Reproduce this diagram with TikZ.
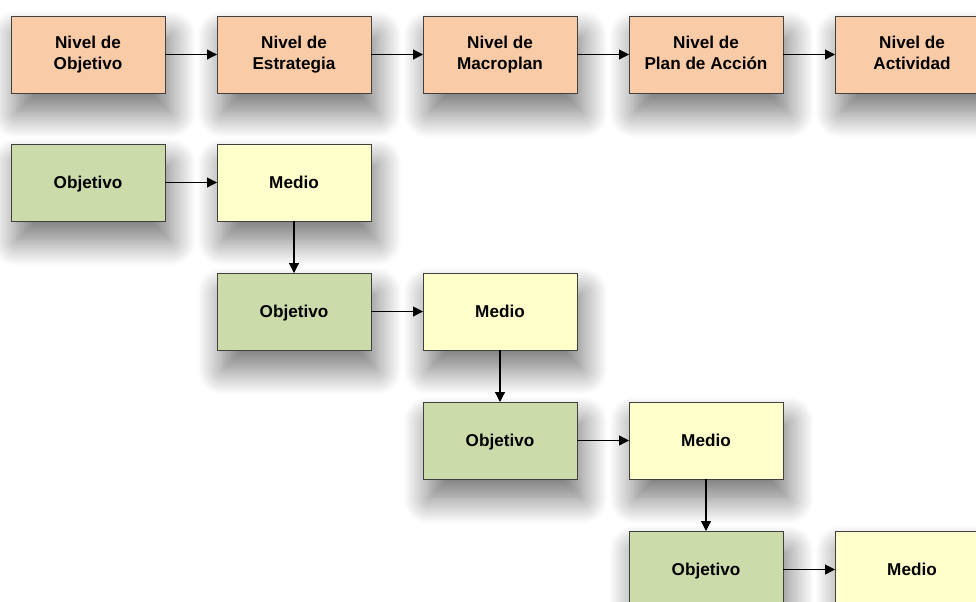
\documentclass[tikz,border=0pt]{standalone}
\usepackage{fontspec}
\setmainfont{Liberation Sans}
\usetikzlibrary{positioning,arrows.meta,shadows.blur}

\definecolor{levelfill}{RGB}{250,203,167}
\definecolor{goalfill}{RGB}{204,219,170}
\definecolor{meansfill}{RGB}{255,255,204}
\definecolor{boxline}{RGB}{64,64,64}

\newcommand{\boxstrut}{\rule[-3pt]{0pt}{14.7pt}}

\begin{document}
\begin{tikzpicture}[box/.style={draw=boxline,line width=0.6pt,outer sep=0pt,minimum width=3.85cm,minimum height=1.925cm,
                            align=center,inner sep=2pt,font=\fontsize{12.2}{15}\selectfont\bfseries,
                            execute at begin node=\boxstrut,execute at end node=\boxstrut,
                            blur shadow={shadow xshift=4pt,shadow yshift=-14pt,shadow blur radius=18pt,
                                         shadow blur steps=20,shadow opacity=55}},
                    level/.style={box,fill=levelfill},
                    goal/.style={box,fill=goalfill},
                    means/.style={box,fill=meansfill},
                    link/.style={-{Triangle[length=7pt,width=7pt]},line width=0.8pt,black},
                    node distance=1.3cm and 1.3cm]
    \path[use as bounding box] (0,0) rectangle (24.4,-15.025);
    \clip (0,0) rectangle (24.4,-15.025);

    % levels
    \node[level] (objective level) at (2.2,-1.3625) {Nivel de\\Objetivo};
    \node[level,right=of objective level] (strategy level) {Nivel de\\Estrategia};
    \node[level,right=of strategy level] (macroplan level) {Nivel de\\Macroplan};
    \node[level,right=of macroplan level] (action level) {Nivel de\\Plan de Acción};
    \node[level,right=of action level] (activity level) {Nivel de\\Actividad};

    \draw[link] (objective level) -- (strategy level);
    \draw[link] (strategy level) -- (macroplan level);
    \draw[link] (macroplan level) -- (action level);
    \draw[link] (action level) -- (activity level);

    % objectives and means
    \node[goal] (goal 1) at (2.2,-4.5625) {Objetivo};
    \node[means,right=of goal 1] (means 1) {Medio};
    \node[goal,below=1.3cm of means 1] (goal 2) {Objetivo};
    \node[means,right=of goal 2] (means 2) {Medio};
    \node[goal,below=1.3cm of means 2] (goal 3) {Objetivo};
    \node[means,right=of goal 3] (means 3) {Medio};
    \node[goal,below=1.3cm of means 3] (goal 4) {Objetivo};
    \node[means,right=of goal 4] (means 4) {Medio};

    \foreach \i/\j in {1/2,2/3,3/4}{
        \draw[link] (goal \i) -- (means \i);
        \draw[link] (means \i) -- (goal \j);
    }
    \draw[link] (goal 4) -- (means 4);
\end{tikzpicture}
\end{document}
